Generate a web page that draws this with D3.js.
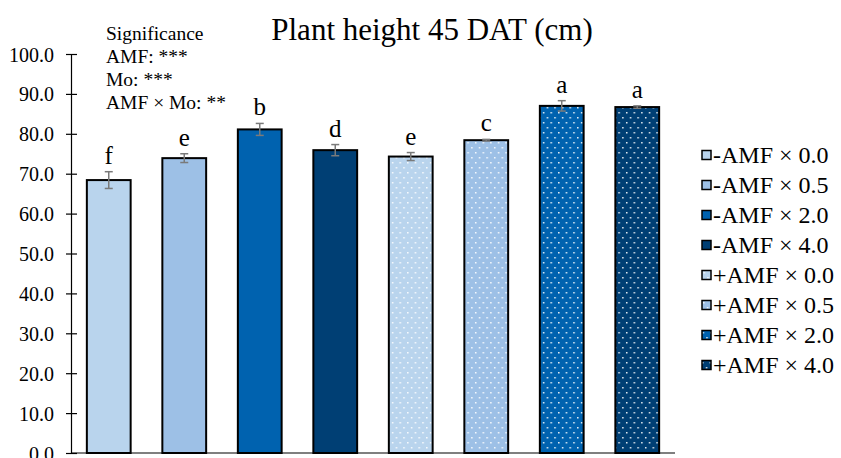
<!DOCTYPE html>
<html><head><meta charset="utf-8">
<script src="https://cdn.jsdelivr.net/npm/d3@7"></script>
<style>body{margin:0;background:#fff}svg{display:block}text{font-family:"Liberation Serif","Times New Roman",serif !important;fill:#000}</style>
</head><body><svg id="c" width="841" height="458"></svg>
<script>
const categories = ["-AMF × 0.0","-AMF × 0.5","-AMF × 2.0","-AMF × 4.0","+AMF × 0.0","+AMF × 0.5","+AMF × 2.0","+AMF × 4.0"];
const values = [68.4, 73.9, 81.1, 75.9, 74.3, 78.4, 87.0, 86.7];
const errors = [2.1, 1.1, 1.5, 1.4, 1.0, 0.2, 1.3, 0.3];
const letters = ["f","e","b","d","e","c","a","a"];
const colors = ["#B9D4ED","#9DC0E6","#0062AF","#003F74","#B9D4ED","#9DC0E6","#0062AF","#003F74"];
const dotted = [false,false,false,false,true,true,true,true];
const yTicks = [0,10,20,30,40,50,60,70,80,90,100];
const sigLines = ["Significance","AMF: ***","Mo: ***","AMF × Mo: **"];
const title = "Plant height 45 DAT (cm)";

const SERIF = '"Liberation Serif","Times New Roman",serif';
const svg = d3.select("#c");
const x0 = 71, x1 = 675, yb = 453, yt = 54;
const x = d3.scaleBand().domain(categories).range([x0, x1]).paddingInner(0.42).paddingOuter(0.21);
const y = d3.scaleLinear().domain([0,100]).range([yb, yt]);

const defs = svg.append("defs");
categories.forEach((c,i)=>{
  if(!dotted[i]) return;
  const p = defs.append("pattern").attr("id","pat"+i).attr("patternUnits","userSpaceOnUse")
    .attr("width",7.6).attr("height",10).attr("x", x(c)+3).attr("y", 2);
  p.append("rect").attr("width",7.6).attr("height",10).attr("fill",colors[i]);
  p.append("rect").attr("x",0).attr("y",0).attr("width",1.5).attr("height",1.5).attr("fill","#fff").attr("opacity",0.9);
  p.append("rect").attr("x",3.8).attr("y",5).attr("width",1.5).attr("height",1.5).attr("fill","#fff").attr("opacity",0.9);
});
const fillOf = i => dotted[i] ? "url(#pat"+i+")" : colors[i];

// title
svg.append("text").attr("x",432).attr("y",40).attr("text-anchor","middle").style("font-family",SERIF).attr("font-size",31).text(title);

// y axis
const ax = svg.append("g").attr("transform",`translate(${x0},0)`)
  .call(d3.axisLeft(y).tickValues(yTicks).tickFormat(d3.format(".1f")).tickSize(0).tickPadding(17));
ax.attr("font-family", SERIF);
ax.select(".domain").attr("stroke","#000").attr("stroke-width",1.2);
ax.selectAll(".tick text").style("font-family",SERIF).attr("font-size",20).attr("fill","#000").attr("dy","0.35em");
ax.selectAll(".tick").append("line").attr("x1",-5).attr("x2",6).attr("stroke","#000").attr("stroke-width",1.2);

// bars
svg.append("g").selectAll("rect").data(categories).join("rect")
  .attr("x",d=>x(d)).attr("width",x.bandwidth())
  .attr("y",(d,i)=>y(values[i])).attr("height",(d,i)=>yb - y(values[i]))
  .attr("fill",(d,i)=>fillOf(i)).attr("stroke","#000").attr("stroke-width",2);

// x axis line
svg.append("line").attr("x1",x0).attr("x2",x1).attr("y1",yb).attr("y2",yb).attr("stroke","#000").attr("stroke-width",1.2);

// error bars
const eg = svg.append("g").attr("stroke","#7a7a7a").attr("stroke-width",1.5);
categories.forEach((c,i)=>{
  const cx = x(c)+x.bandwidth()/2;
  const hi = y(values[i]+errors[i]), lo = y(values[i]-errors[i]);
  eg.append("line").attr("x1",cx).attr("x2",cx).attr("y1",hi).attr("y2",lo);
  eg.append("line").attr("x1",cx-4).attr("x2",cx+4).attr("y1",hi).attr("y2",hi);
  eg.append("line").attr("x1",cx-4).attr("x2",cx+4).attr("y1",lo).attr("y2",lo);
});

// letters
svg.append("g").selectAll("text").data(categories).join("text")
  .attr("x",d=>x(d)+x.bandwidth()/2).attr("y",(d,i)=>y(values[i]+errors[i])-8)
  .attr("text-anchor","middle").style("font-family",SERIF).attr("font-size",25).text((d,i)=>letters[i]);

// significance
svg.append("g").selectAll("text").data(sigLines).join("text")
  .attr("x",106).attr("y",(d,i)=>40+i*23).style("font-family",SERIF).attr("font-size",19.5).text(d=>d);

// legend
const lg = svg.append("g");
categories.forEach((c,i)=>{
  const cy = 155 + i*30;
  lg.append("rect").attr("x",702).attr("y",cy-4.5).attr("width",9).attr("height",9)
    .attr("fill",fillOf(i)).attr("stroke","#000").attr("stroke-width",1.5);
  lg.append("text").attr("x",713).attr("y",cy).attr("dy","0.35em").style("font-family",SERIF).attr("font-size",24).text(c);
});
</script></body></html>
